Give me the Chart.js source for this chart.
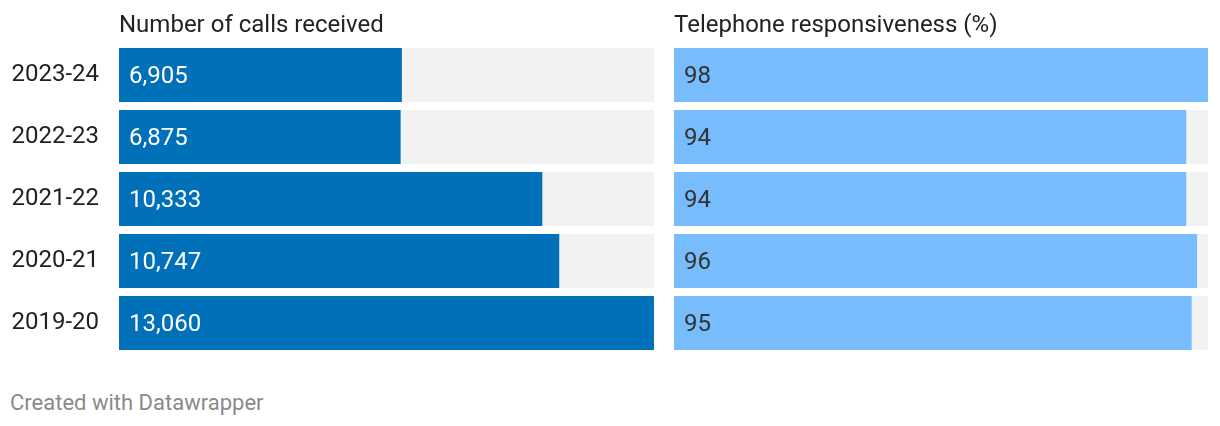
<!DOCTYPE html>
<html>
<head>
<meta charset="utf-8">
<script src="https://cdn.jsdelivr.net/npm/chart.js@4/dist/chart.umd.min.js"></script>
<style>
  html, body { margin: 0; padding: 0; background: #fff; }
  body { width: 1220px; height: 426px; position: relative; overflow: hidden; font-family: Roboto, sans-serif; }
  #left { position: absolute; left: 0; top: 0; width: 660px; height: 370px; }
  #right { position: absolute; left: 674px; top: 0; width: 546px; height: 370px; }
  #footer { position: absolute; left: 10px; top: 390px; font-size: 22px; color: #8a8a8a; font-family: Roboto, sans-serif; }
</style>
</head>
<body>
<div id="left"><canvas id="c1"></canvas></div>
<div id="right"><canvas id="c2"></canvas></div>
<div id="footer">Created with Datawrapper</div>
<script>
const categories = ["2023-24", "2022-23", "2021-22", "2020-21", "2019-20"];
const callsReceived = [6905, 6875, 10333, 10747, 13060];
const responsiveness = [98, 94, 94, 96, 95];
const callsMax = 13060;
const respMax = 98;
const titles = ["Number of calls received", "Telephone responsiveness (%)"];

const FONT = "Roboto, sans-serif";

const labelPlugin = {
  id: 'barLabels',
  afterDatasetsDraw(chart, args, opts) {
    const ctx = chart.ctx;
    const meta = chart.getDatasetMeta(0);
    const ds = chart.data.datasets[0];
    ctx.save();
    ctx.font = "24px " + FONT;
    ctx.fillStyle = opts.color;
    ctx.textAlign = 'left';
    ctx.textBaseline = 'alphabetic';
    meta.data.forEach((el, i) => {
      ctx.fillText(opts.format(ds.data[i]), el.base + 10, el.y + 8);
    });
    // title
    ctx.fillStyle = '#222';
    ctx.fillText(opts.title, chart.chartArea.left, 32);
    ctx.restore();
  }
};

function makeChart(id, values, max, colors, opts) {
  return new Chart(document.getElementById(id), {
    type: 'bar',
    data: {
      labels: categories,
      datasets: [
        { data: values, backgroundColor: colors.bar, order: 1, grouped: false,
          categoryPercentage: 1, barPercentage: 54/62 },
        { data: categories.map(() => max), backgroundColor: '#f2f2f2', order: 2, grouped: false,
          categoryPercentage: 1, barPercentage: 54/62 }
      ]
    },
    plugins: [labelPlugin],
    options: {
      indexAxis: 'y',
      responsive: true,
      maintainAspectRatio: false,
      animation: false,
      layout: { padding: opts.padding },
      plugins: {
        legend: { display: false },
        tooltip: { enabled: false },
        barLabels: { color: colors.text, format: opts.format, title: opts.title }
      },
      scales: {
        x: { display: false, min: 0, max: max },
        y: {
          display: opts.showY,
          grid: { display: false, drawTicks: false },
          border: { display: false },
          ticks: { color: '#222', font: { family: FONT, size: 24 }, padding: 20 },
          afterFit(scale) {
            if (opts.showY) {
              scale.width = 119;
              scale.paddingTop = 0;
              scale.paddingBottom = 0;
            }
          }
        }
      }
    }
  });
}

makeChart('c1', callsReceived, callsMax, { bar: '#0070b8', text: '#ffffff' }, {
  padding: { top: 44, right: 6, bottom: 16, left: 0 },
  showY: true,
  title: titles[0],
  format: v => v.toLocaleString('en-US')
});
makeChart('c2', responsiveness, respMax, { bar: '#77bcfd', text: '#333333' }, {
  padding: { top: 44, right: 12, bottom: 16, left: 0 },
  showY: false,
  title: titles[1],
  format: v => String(v)
});
</script>
</body>
</html>
